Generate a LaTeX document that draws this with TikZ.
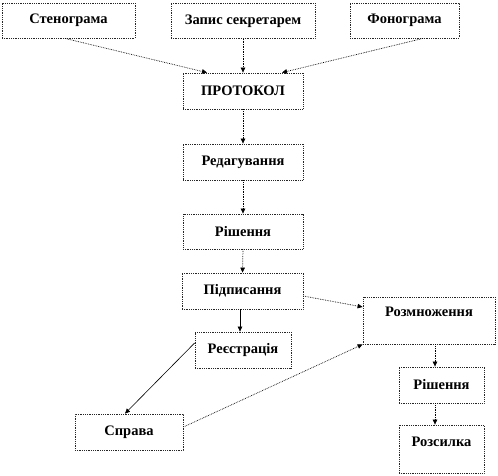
\documentclass[tikz,border=0pt]{standalone}
\usepackage{fontspec}
\setmainfont{Liberation Serif}
\usetikzlibrary{arrows.meta,calc}
\tikzset{
  box/.style={draw=black!85, densely dotted, line width=0.8pt, rectangle, inner sep=0pt, align=center, font=\bfseries\fontsize{14.5}{16}\selectfont},
  conn/.style={draw=black, densely dotted, line width=0.7pt, -{Triangle[length=5pt,width=4.5pt]}},
  connsolid/.style={draw=black, line width=0.6pt, -{Triangle[length=5pt,width=4.5pt]}}
}
\begin{document}
\begin{tikzpicture}[x=1pt,y=-1pt]
\useasboundingbox (0,0) rectangle (498,476);
\node[box, minimum width=133pt, minimum height=35pt] (steno) at (68.5,20.5) {Стенограма};
\node[box, minimum width=144pt, minimum height=35pt] (zapys) at (243,21) {Запис секретарем};
\node[box, minimum width=109pt, minimum height=35pt] (fono) at (404.5,20.5) {Фонограма};
\node[box, minimum width=120pt, minimum height=36pt] (proto) at (243,91) {ПРОТОКОЛ};
\node[box, minimum width=120pt, minimum height=36pt] (redag) at (243,162) {Редагування};
\node[box, minimum width=120pt, minimum height=35pt] (rish) at (243,231.5) {Рішення};
\node[box, minimum width=121pt, minimum height=36pt] (pidp) at (242.5,291) {Підписання};
\node[box, minimum width=96pt, minimum height=36pt] (reestr) at (243,350) {Реєстрація};
\node[box, minimum width=108pt, minimum height=36pt] (sprava) at (129,432) {Справа};
\node[box, minimum width=132pt, minimum height=47pt, text depth=17pt] (rozm) at (429,320.5) {Розмноження};
\node[box, minimum width=85pt, minimum height=36pt] (rish2) at (441.5,385) {Рішення};
\node[box, minimum width=85pt, minimum height=48pt, text depth=14pt] (rozs) at (441.5,449) {Розсилка};

\draw[conn] ($(steno.south)+(-3.5,0)$) -- ($(proto.north)+(-36,0)$);
\draw[conn] (zapys.south) -- (proto.north);
\draw[conn] ($(fono.south)+(18.5,0)$) -- ($(proto.north)+(39,0)$);
\draw[conn] (proto.south) -- (redag.north);
\draw[conn] (redag.south) -- (rish.north);
\draw[conn] (rish.south) -- (pidp.north);
\draw[connsolid] ($(pidp.south)+(-2.5,0)$) -- ($(reestr.north)+(-3,0)$);
\draw[conn] ($(pidp.east)+(0,5)$) -- ($(rozm.west)+(0,-13.5)$);
\draw[connsolid] ($(reestr.west)+(0,-7)$) -- ($(sprava.north)+(-4,0)$);
\draw[conn] ($(sprava.east)+(0,-5)$) -- (rozm.south west);
\draw[conn] ($(rozm.south)+(6,0)$) -- ($(rish2.north)+(-6.5,0)$);
\draw[conn] ($(rish2.south)+(-6.5,0)$) -- ($(rozs.north)+(-6.5,0)$);
\end{tikzpicture}
\end{document}
